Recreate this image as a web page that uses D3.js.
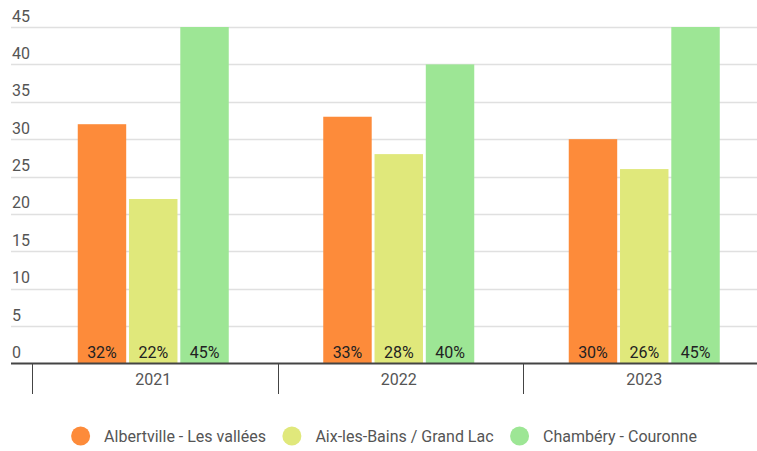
<!DOCTYPE html>
<html><head><meta charset="utf-8">
<script src="https://cdn.jsdelivr.net/npm/d3@7"></script>
<style>body{margin:0;background:#fff;}svg{display:block;font-family:Roboto,sans-serif;}</style>
</head><body>
<svg id="c" width="757" height="451"></svg>
<script>
const years = ["2021", "2022", "2023"];
const seriesNames = ["Albertville - Les vallées", "Aix-les-Bains / Grand Lac", "Chambéry - Couronne"];
const albertville = [32, 33, 30];
const aixLesBains = [22, 28, 26];
const chambery = [45, 40, 45];
const colors = ["#FD8B3A", "#E0E87B", "#9DE695"];
const yTicks = [0, 5, 10, 15, 20, 25, 30, 35, 40, 45];

const values = [albertville, aixLesBains, chambery];
const svg = d3.select("#c");
const y = d3.scaleLinear().domain([0, 45]).range([363.5, 27]);
const x0 = d3.scaleBand().domain(years).range([32, 768.5]).padding(0);
const groupW = 151;
const x1 = d3.scaleBand().domain(seriesNames).range([0, groupW]).paddingInner(0.055);
const gOff = (x0.bandwidth() - groupW) / 2 - 1.5;

// gridlines
svg.append("g").selectAll("line").data(yTicks.slice(1)).join("line")
  .attr("x1", 11).attr("x2", 757)
  .attr("y1", d => Math.round(y(d)) + 0.5).attr("y2", d => Math.round(y(d)) + 0.5)
  .attr("stroke", "#e0e0e0").attr("stroke-width", 1.5);

// y labels
svg.append("g").selectAll("text").data(yTicks).join("text")
  .attr("x", 12).attr("y", d => y(d) - 5.5)
  .attr("font-size", 16).attr("fill", "#555").text(d => d);

// bars
const groups = svg.append("g").selectAll("g").data(years).join("g")
  .attr("transform", d => `translate(${x0(d) + gOff},0)`);
groups.selectAll("rect").data((d, i) => seriesNames.map((s, j) => ({s, j, v: values[j][i]}))).join("rect")
  .attr("x", d => x1(d.s)).attr("width", x1.bandwidth())
  .attr("y", d => y(d.v)).attr("height", d => y(0) - y(d.v))
  .attr("fill", d => colors[d.j]);
groups.selectAll("text").data((d, i) => seriesNames.map((s, j) => ({s, j, v: values[j][i]}))).join("text")
  .attr("x", d => x1(d.s) + x1.bandwidth() / 2).attr("y", 357.5)
  .attr("text-anchor", "middle").attr("font-size", 16).attr("fill", "#222")
  .text(d => d.v + "%");

// x axis
const xAxis = svg.append("g");
xAxis.append("line").attr("x1", 11).attr("x2", 757).attr("y1", 363.5).attr("y2", 363.5)
  .attr("stroke", "#444").attr("stroke-width", 2);
xAxis.selectAll("line.tick").data(years).join("line").attr("class", "tick")
  .attr("x1", d => Math.round(x0(d)) + 0.5).attr("x2", d => Math.round(x0(d)) + 0.5)
  .attr("y1", 363.5).attr("y2", 394).attr("stroke", "#444").attr("stroke-width", 1);
xAxis.selectAll("text").data(years).join("text")
  .attr("x", d => x0(d) + x0.bandwidth() / 2 - 1.5).attr("y", 385)
  .attr("text-anchor", "middle").attr("font-size", 16).attr("fill", "#555").text(d => d);

// legend
const legend = svg.append("g");
const items = legend.selectAll("g").data(seriesNames).join("g");
items.append("circle").attr("r", 9.5).attr("cy", 436).attr("fill", (d, i) => colors[i]);
items.append("text").attr("x", 23.5).attr("y", 441.5).attr("font-size", 16).attr("fill", "#555").text(d => d);
let cx = 0;
const pos = [];
items.each(function(d, i) {
  const w = d3.select(this).select("text").node().getComputedTextLength();
  pos.push(cx);
  cx += 9.5 + 23.5 - 9.5 + w + 26;
});
const totalW = cx - 26 + 9.5;
const startX = 384 - totalW / 2 + 9.5;
items.attr("transform", (d, i) => `translate(${startX + pos[i]},0)`);
</script>
</body></html>
